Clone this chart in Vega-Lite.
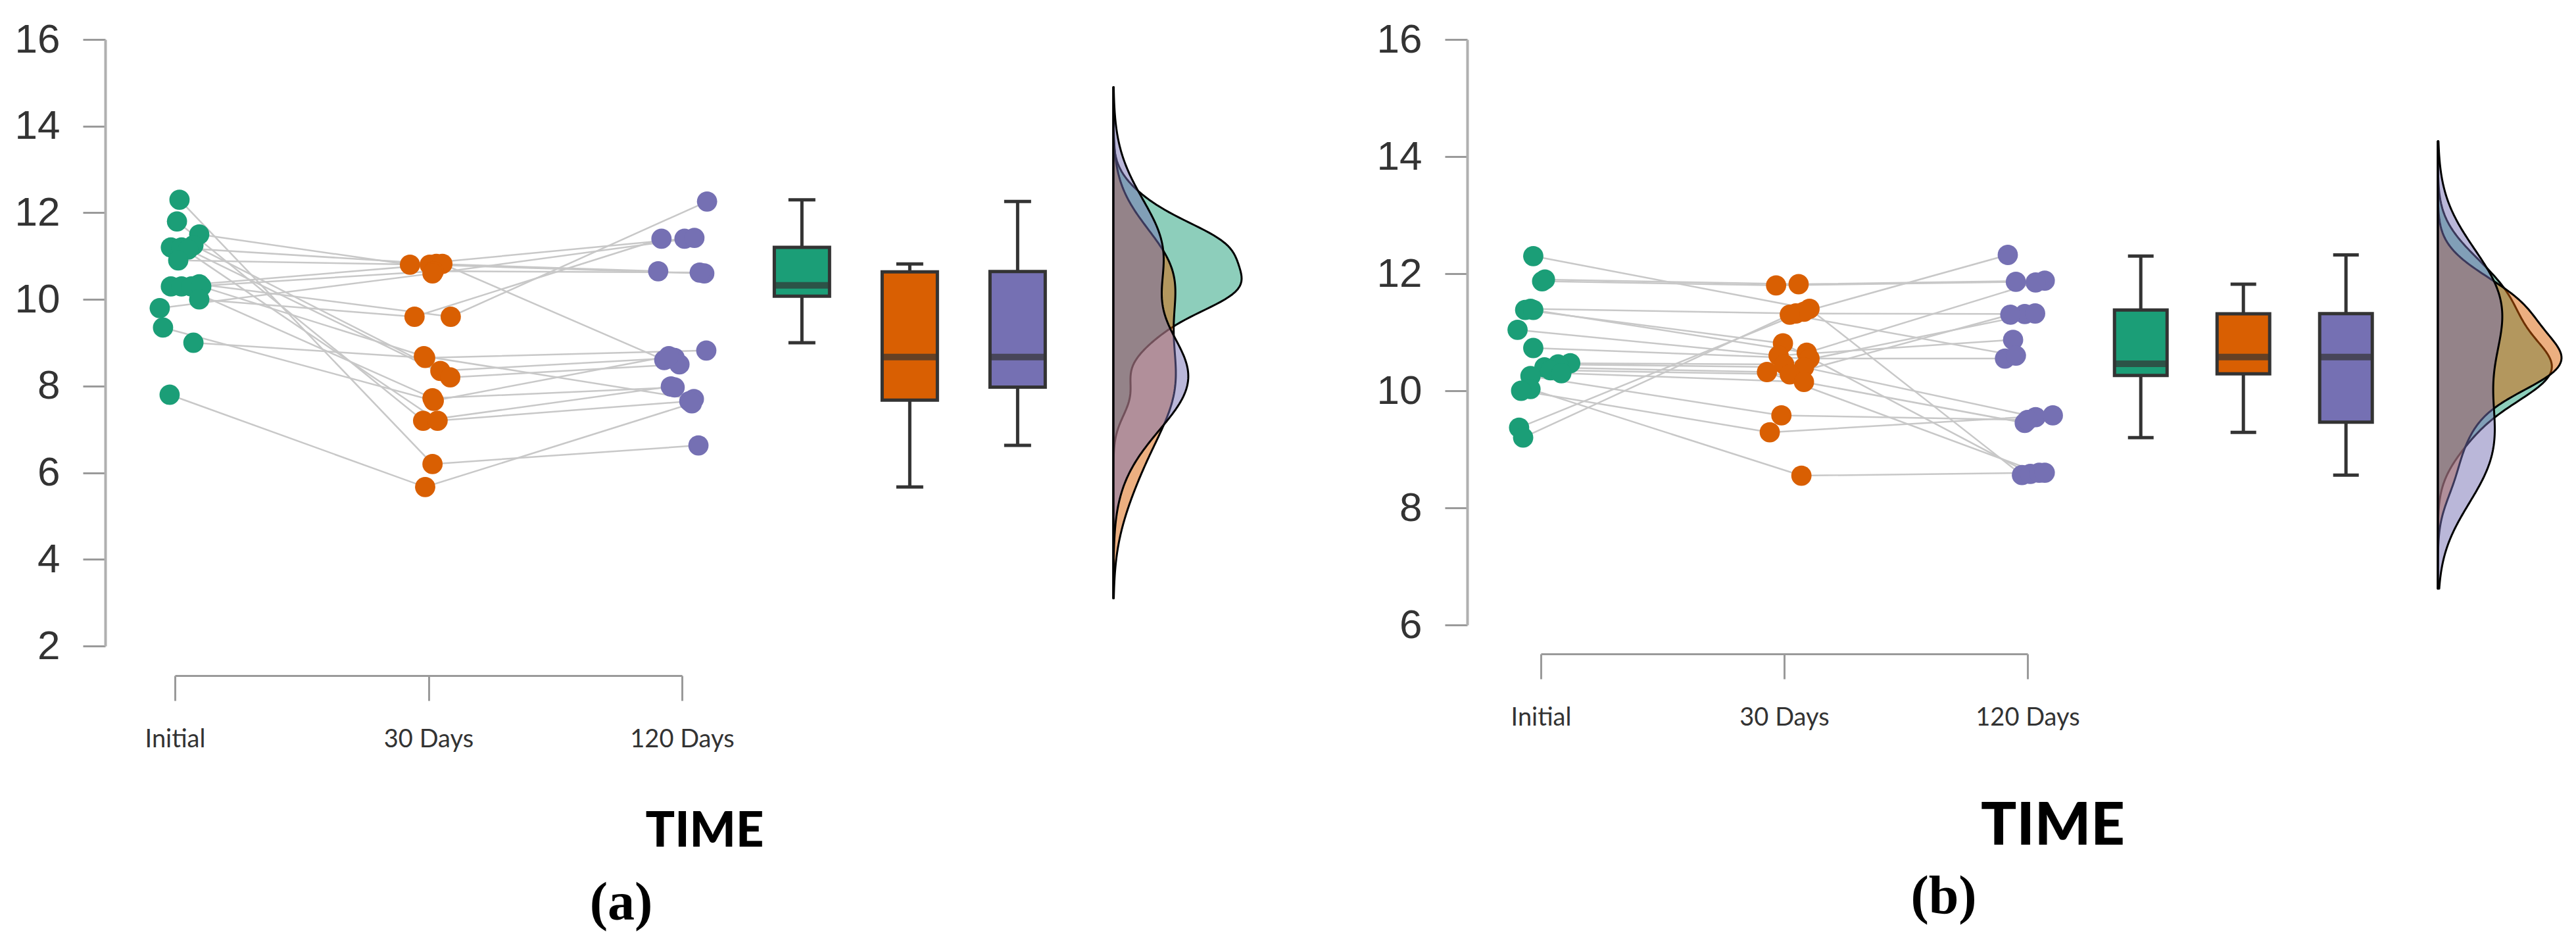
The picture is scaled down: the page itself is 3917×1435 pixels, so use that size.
{
  "$schema": "https://vega.github.io/schema/vega-lite/v6.json",
  "autosize": {"type": "pad"},
  "padding": {"left": 22, "top": 29, "right": 5, "bottom": 5},
  "background": "white",
  "config": {"view": {"stroke": null}, "axis": {"grid": false}},
  "datasets": {
    "a": [
      {"s":1,"time":"Initial","value":12.3,"jitter":0.018},{"s":1,"time":"30 Days","value":6.2,"jitter":0.016},{"s":1,"time":"120 Days","value":6.63,"jitter":0.065},
      {"s":2,"time":"Initial","value":11.8,"jitter":0.008},{"s":2,"time":"30 Days","value":7.2,"jitter":-0.021},{"s":2,"time":"120 Days","value":7.99,"jitter":-0.044},
      {"s":3,"time":"Initial","value":11.5,"jitter":0.096},{"s":3,"time":"30 Days","value":10.8,"jitter":-0.073},{"s":3,"time":"120 Days","value":11.4,"jitter":0.010},
      {"s":4,"time":"Initial","value":11.25,"jitter":0.073},{"s":4,"time":"30 Days","value":8.35,"jitter":0.047},{"s":4,"time":"120 Days","value":8.65,"jitter":-0.029},
      {"s":5,"time":"Initial","value":11.2,"jitter":-0.016},{"s":5,"time":"30 Days","value":10.82,"jitter":0.031},{"s":5,"time":"120 Days","value":10.65,"jitter":-0.094},
      {"s":6,"time":"Initial","value":11.2,"jitter":0.026},{"s":6,"time":"30 Days","value":7.2,"jitter":0.036},{"s":6,"time":"120 Days","value":7.65,"jitter":0.029},
      {"s":7,"time":"Initial","value":11.15,"jitter":0.052},{"s":7,"time":"30 Days","value":8.2,"jitter":0.086},{"s":7,"time":"120 Days","value":8.5,"jitter":-0.010},
      {"s":8,"time":"Initial","value":10.9,"jitter":0.013},{"s":8,"time":"30 Days","value":10.8,"jitter":0.005},{"s":8,"time":"120 Days","value":10.6,"jitter":0.088},
      {"s":9,"time":"Initial","value":10.35,"jitter":0.096},{"s":9,"time":"30 Days","value":9.6,"jitter":0.088},{"s":9,"time":"120 Days","value":12.26,"jitter":0.099},
      {"s":10,"time":"Initial","value":10.3,"jitter":-0.016},{"s":10,"time":"30 Days","value":10.82,"jitter":0.055},{"s":10,"time":"120 Days","value":8.6,"jitter":-0.070},
      {"s":11,"time":"Initial","value":10.3,"jitter":0.026},{"s":11,"time":"30 Days","value":7.72,"jitter":0.016},{"s":11,"time":"120 Days","value":7.97,"jitter":-0.029},
      {"s":12,"time":"Initial","value":10.3,"jitter":0.065},{"s":12,"time":"30 Days","value":10.65,"jitter":0.021},{"s":12,"time":"120 Days","value":10.62,"jitter":0.070},
      {"s":13,"time":"Initial","value":10.3,"jitter":0.104},{"s":13,"time":"30 Days","value":8.69,"jitter":-0.018},{"s":13,"time":"120 Days","value":7.7,"jitter":0.047},
      {"s":14,"time":"Initial","value":10.0,"jitter":0.096},{"s":14,"time":"30 Days","value":9.6,"jitter":-0.055},{"s":14,"time":"120 Days","value":11.4,"jitter":-0.081},
      {"s":15,"time":"Initial","value":9.8,"jitter":-0.060},{"s":15,"time":"30 Days","value":10.6,"jitter":0.016},{"s":15,"time":"120 Days","value":11.42,"jitter":0.049},
      {"s":16,"time":"Initial","value":9.35,"jitter":-0.047},{"s":16,"time":"30 Days","value":7.66,"jitter":0.021},{"s":16,"time":"120 Days","value":8.69,"jitter":-0.052},
      {"s":17,"time":"Initial","value":9.0,"jitter":0.073},{"s":17,"time":"30 Days","value":8.65,"jitter":-0.013},{"s":17,"time":"120 Days","value":8.82,"jitter":0.096},
      {"s":18,"time":"Initial","value":7.8,"jitter":-0.021},{"s":18,"time":"30 Days","value":5.67,"jitter":-0.013},{"s":18,"time":"120 Days","value":7.6,"jitter":0.039}
    ],
    "b": [
      {"s":1,"time":"Initial","value":12.3,"jitter":-0.030},{"s":1,"time":"30 Days","value":11.4,"jitter":0.100},{"s":1,"time":"120 Days","value":8.56,"jitter":-0.022},
      {"s":2,"time":"Initial","value":11.9,"jitter":0.016},{"s":2,"time":"30 Days","value":11.82,"jitter":0.057},{"s":2,"time":"120 Days","value":11.88,"jitter":0.068},
      {"s":3,"time":"Initial","value":11.87,"jitter":0.005},{"s":3,"time":"30 Days","value":11.8,"jitter":-0.032},{"s":3,"time":"120 Days","value":11.86,"jitter":-0.046},
      {"s":4,"time":"Initial","value":11.4,"jitter":-0.041},{"s":4,"time":"30 Days","value":11.32,"jitter":0.046},{"s":4,"time":"120 Days","value":11.31,"jitter":-0.011},
      {"s":5,"time":"Initial","value":11.38,"jitter":-0.062},{"s":5,"time":"30 Days","value":10.81,"jitter":-0.005},{"s":5,"time":"120 Days","value":8.58,"jitter":0.011},
      {"s":6,"time":"Initial","value":11.38,"jitter":-0.030},{"s":6,"time":"30 Days","value":10.65,"jitter":0.089},{"s":6,"time":"120 Days","value":11.85,"jitter":0.032},
      {"s":7,"time":"Initial","value":11.04,"jitter":-0.092},{"s":7,"time":"30 Days","value":10.6,"jitter":-0.022},{"s":7,"time":"120 Days","value":10.87,"jitter":-0.057},
      {"s":8,"time":"Initial","value":10.73,"jitter":-0.030},{"s":8,"time":"30 Days","value":10.55,"jitter":0.100},{"s":8,"time":"120 Days","value":10.55,"jitter":-0.089},
      {"s":9,"time":"Initial","value":10.47,"jitter":0.116},{"s":9,"time":"30 Days","value":10.45,"jitter":0.0},{"s":9,"time":"120 Days","value":11.32,"jitter":0.030},
      {"s":10,"time":"Initial","value":10.45,"jitter":0.068},{"s":10,"time":"30 Days","value":10.4,"jitter":0.078},{"s":10,"time":"120 Days","value":9.55,"jitter":0.032},
      {"s":11,"time":"Initial","value":10.4,"jitter":0.014},{"s":11,"time":"30 Days","value":10.32,"jitter":-0.068},{"s":11,"time":"120 Days","value":8.6,"jitter":0.046},
      {"s":12,"time":"Initial","value":10.35,"jitter":0.038},{"s":12,"time":"30 Days","value":10.28,"jitter":0.022},{"s":12,"time":"120 Days","value":11.3,"jitter":-0.068},
      {"s":13,"time":"Initial","value":10.3,"jitter":0.081},{"s":13,"time":"30 Days","value":10.15,"jitter":0.078},{"s":13,"time":"120 Days","value":9.45,"jitter":-0.011},
      {"s":14,"time":"Initial","value":10.25,"jitter":-0.041},{"s":14,"time":"30 Days","value":9.58,"jitter":-0.011},{"s":14,"time":"120 Days","value":9.5,"jitter":0.0},
      {"s":15,"time":"Initial","value":10.03,"jitter":-0.041},{"s":15,"time":"30 Days","value":8.55,"jitter":0.068},{"s":15,"time":"120 Days","value":8.6,"jitter":0.068},
      {"s":16,"time":"Initial","value":10.0,"jitter":-0.078},{"s":16,"time":"30 Days","value":9.29,"jitter":-0.057},{"s":16,"time":"120 Days","value":9.58,"jitter":0.100},
      {"s":17,"time":"Initial","value":9.37,"jitter":-0.086},{"s":17,"time":"30 Days","value":11.35,"jitter":0.078},{"s":17,"time":"120 Days","value":12.32,"jitter":-0.078},
      {"s":18,"time":"Initial","value":9.2,"jitter":-0.070},{"s":18,"time":"30 Days","value":11.3,"jitter":0.022},{"s":18,"time":"120 Days","value":10.6,"jitter":-0.046}
    ]
  },
  "hconcat": [
    {
      "width": 771, "height": 922,
      "data": {"name": "a"},
      "encoding": {
        "x": {"field": "time", "type": "nominal",
              "scale": {"type": "point", "padding": 0, "domain": ["Initial", "30 Days", "120 Days"]},
              "axis": {"title": "TIME", "titleFont": "Lato", "titleFontSize": 74, "titleFontWeight": 900, "titleColor": "#000000",
                       "titleX": 805, "titleY": 237, "titleBaseline": "middle", "titleAlign": "center",
                       "labelAngle": 0, "labelFont": "Lato", "labelFontSize": 38, "labelColor": "#333333", "labelPadding": 40,
                       "tickSize": 38, "tickWidth": 3, "tickColor": "#9a9a9a", "domainColor": "#9a9a9a", "domainWidth": 3, "offset": 45}},
        "xOffset": {"field": "jitter", "type": "quantitative", "scale": {"domain": [-1, 1], "range": [-385, 385]}},
        "y": {"field": "value", "type": "quantitative", "scale": {"domain": [2, 16], "nice": false, "zero": false},
              "axis": {"title": null, "values": [2, 4, 6, 8, 10, 12, 14, 16], "offset": 106, "tickSize": 34, "tickWidth": 3, "tickColor": "#9a9a9a",
                       "domainColor": "#b0b0b0", "domainWidth": 4, "labelFont": "Liberation Sans", "labelFontSize": 62, "labelColor": "#333333", "labelPadding": 35}}
      },
      "layer": [
        {"mark": {"type": "line", "color": "#c8c8c8", "strokeWidth": 2.5}, "encoding": {"detail": {"field": "s", "type": "nominal"}}},
        {"mark": {"type": "point", "filled": true, "opacity": 1, "size": 950, "shape": "circle"},
         "encoding": {"color": {"field": "time", "type": "nominal", "scale": {"domain": ["Initial", "30 Days", "120 Days"], "range": ["#1b9e77", "#d95f02", "#7570b3"]}, "legend": null}}}
      ]
    },
    {
      "width": 656, "height": 922,
      "data": {"name": "a"},
      "mark": {"type": "boxplot", "extent": 1.5, "size": 84, "outliers": false,
               "box": {"stroke": "#333333", "strokeWidth": 5},
               "median": {"color": "#333333", "thickness": 10},
               "rule": {"color": "#333333", "strokeWidth": 5},
               "ticks": {"color": "#333333", "size": 41, "thickness": 5}},
      "encoding": {
        "x": {"field": "time", "type": "nominal",
              "scale": {"type": "point", "domain": ["Initial", "30 Days", "120 Days"], "padding": 1.123, "align": 0.556},
              "axis": {"title": "(a)", "labels": false, "ticks": false, "domain": false, "titleX": -93, "titleY": 390,
                       "titleFont": "Liberation Serif", "titleFontSize": 82, "titleFontWeight": "bold", "titleColor": "#000000", "titleBaseline": "middle", "titleAlign": "center"}},
        "y": {"field": "value", "type": "quantitative", "scale": {"domain": [2, 16], "nice": false, "zero": false}, "axis": null},
        "color": {"field": "time", "type": "nominal", "scale": {"domain": ["Initial", "30 Days", "120 Days"], "range": ["#1b9e77", "#d95f02", "#7570b3"]}, "legend": null}
      }
    },
    {
      "width": 650, "height": 922,
      "data": {"name": "a"},
      "transform": [{"density": "value", "groupby": ["time"], "extent": [3.1, 14.9], "steps": 200}],
      "mark": {"type": "area", "orient": "horizontal", "fillOpacity": 0.5, "stroke": "#000000", "strokeWidth": 3, "strokeJoin": "round"},
      "encoding": {
        "y": {"field": "value", "type": "quantitative", "scale": {"domain": [2, 16], "nice": false, "zero": false}, "axis": null},
        "x": {"field": "density", "type": "quantitative", "stack": null, "scale": {"range": [0, 195], "nice": false, "zero": true}, "axis": null},
        "color": {"field": "time", "type": "nominal", "scale": {"domain": ["Initial", "30 Days", "120 Days"], "range": ["#1b9e77", "#d95f02", "#7570b3"]}, "legend": null}
      }
    },
    {
      "width": 740, "height": 890,
      "data": {"name": "b"},
      "encoding": {
        "x": {"field": "time", "type": "nominal",
              "scale": {"type": "point", "padding": 0, "domain": ["Initial", "30 Days", "120 Days"]},
              "axis": {"title": "TIME", "titleFont": "Lato", "titleFontSize": 90, "titleFontWeight": 900, "titleColor": "#000000",
                       "titleX": 778, "titleY": 262, "titleBaseline": "middle", "titleAlign": "center",
                       "labelAngle": 0, "labelFont": "Lato", "labelFontSize": 38, "labelColor": "#333333", "labelPadding": 40,
                       "tickSize": 38, "tickWidth": 3, "tickColor": "#9a9a9a", "domainColor": "#9a9a9a", "domainWidth": 3, "offset": 44}},
        "xOffset": {"field": "jitter", "type": "quantitative", "scale": {"domain": [-1, 1], "range": [-370, 370]}},
        "y": {"field": "value", "type": "quantitative", "scale": {"domain": [6, 16], "nice": false, "zero": false},
              "axis": {"title": null, "values": [6, 8, 10, 12, 14, 16], "offset": 112, "tickSize": 34, "tickWidth": 3, "tickColor": "#9a9a9a",
                       "domainColor": "#b0b0b0", "domainWidth": 4, "labelFont": "Liberation Sans", "labelFontSize": 62, "labelColor": "#333333", "labelPadding": 35}}
      },
      "layer": [
        {"mark": {"type": "line", "color": "#c8c8c8", "strokeWidth": 2.5}, "encoding": {"detail": {"field": "s", "type": "nominal"}}},
        {"mark": {"type": "point", "filled": true, "opacity": 1, "size": 950, "shape": "circle"},
         "encoding": {"color": {"field": "time", "type": "nominal", "scale": {"domain": ["Initial", "30 Days", "120 Days"], "range": ["#1b9e77", "#d95f02", "#7570b3"]}, "legend": null}}}
      ]
    },
    {
      "width": 624, "height": 890,
      "data": {"name": "b"},
      "mark": {"type": "boxplot", "extent": 1.5, "size": 80, "outliers": false,
               "box": {"stroke": "#333333", "strokeWidth": 5},
               "median": {"color": "#333333", "thickness": 10},
               "rule": {"color": "#333333", "strokeWidth": 5},
               "ticks": {"color": "#333333", "size": 39, "thickness": 5}},
      "encoding": {
        "x": {"field": "time", "type": "nominal",
              "scale": {"type": "point", "domain": ["Initial", "30 Days", "120 Days"], "padding": 1.108, "align": 0.552},
              "axis": {"title": "(b)", "labels": false, "ticks": false, "domain": false, "titleX": -128, "titleY": 412,
                       "titleFont": "Liberation Serif", "titleFontSize": 82, "titleFontWeight": "bold", "titleColor": "#000000", "titleBaseline": "middle", "titleAlign": "center"}},
        "y": {"field": "value", "type": "quantitative", "scale": {"domain": [6, 16], "nice": false, "zero": false}, "axis": null},
        "color": {"field": "time", "type": "nominal", "scale": {"domain": ["Initial", "30 Days", "120 Days"], "range": ["#1b9e77", "#d95f02", "#7570b3"]}, "legend": null}
      }
    },
    {
      "width": 188, "height": 890,
      "data": {"name": "b"},
      "transform": [{"density": "value", "groupby": ["time"], "extent": [6.62, 14.26], "steps": 200}],
      "mark": {"type": "area", "orient": "horizontal", "fillOpacity": 0.5, "stroke": "#000000", "strokeWidth": 3, "strokeJoin": "round"},
      "encoding": {
        "y": {"field": "value", "type": "quantitative", "scale": {"domain": [6, 16], "nice": false, "zero": false}, "axis": null},
        "x": {"field": "density", "type": "quantitative", "stack": null, "scale": {"nice": false, "zero": true}, "axis": null},
        "color": {"field": "time", "type": "nominal", "scale": {"domain": ["Initial", "30 Days", "120 Days"], "range": ["#1b9e77", "#d95f02", "#7570b3"]}, "legend": null}
      }
    }
  ],
  "spacing": 0,
  "bounds": "flush"
}
